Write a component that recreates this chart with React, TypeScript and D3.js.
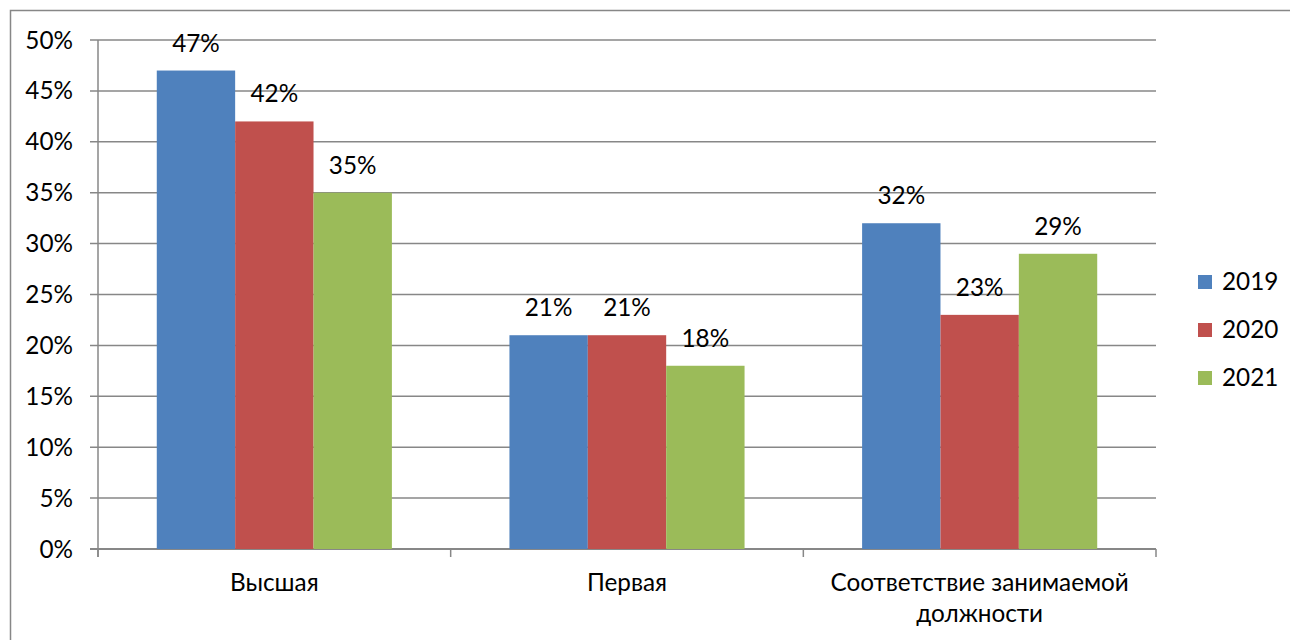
import React from "react";
import * as d3 from "d3";

const categories: string[][] = [["Высшая"], ["Первая"], ["Соответствие занимаемой", "должности"]];
const seriesNames = ["2019", "2020", "2021"];
const values2019 = [0.47, 0.21, 0.32];
const values2020 = [0.42, 0.21, 0.23];
const values2021 = [0.35, 0.18, 0.29];
const yTicks = [0, 0.05, 0.1, 0.15, 0.2, 0.25, 0.3, 0.35, 0.4, 0.45, 0.5];
const colors = ["#4F81BD", "#C0504D", "#9BBB59"];

const W = 1290;
const H = 640;
const left = 98;
const right = 1156;
const top = 40;
const bottom = 549;
const FONT = "Lato, 'Open Sans', sans-serif";
const FS = 24.3;

export default function App() {
  const series = [values2019, values2020, values2021];
  const catKeys = categories.map((c) => c.join(" "));
  const x0 = d3.scaleBand<string>().domain(catKeys).range([left, right]).paddingInner(0).paddingOuter(0);
  const x1 = d3
    .scaleBand<string>()
    .domain(seriesNames)
    .range([0, x0.bandwidth()])
    .paddingInner(0)
    .paddingOuter(0.75);
  const y = d3.scaleLinear().domain([0, 0.5]).range([bottom, top]);
  const fmt = d3.format(".0%");
  const grid = "#878787";

  const boundaries = [...catKeys.map((k) => x0(k)!), right];

  return (
    <svg
      width={W}
      height={H}
      style={{ position: "absolute", left: 0, top: 0, background: "#fff" }}
      fontFamily={FONT}
    >
      <rect x={10.5} y={10.5} width={W} height={H} fill="#fff" stroke={grid} strokeWidth={1.5} />
      {yTicks.map((t) => (
        <g key={t}>
          <line x1={left - 8} x2={right} y1={y(t)} y2={y(t)} stroke={grid} strokeWidth={t === 0 ? 2 : 1.5} />
          <text x={73} y={y(t) + 8.5} textAnchor="end" fontSize={FS} fill="#000">
            {fmt(t)}
          </text>
        </g>
      ))}
      <line x1={left} x2={left} y1={top} y2={bottom + 8} stroke={grid} strokeWidth={1.5} />
      {boundaries.map((b, i) => (
        <line key={i} x1={b} x2={b} y1={bottom} y2={bottom + 8} stroke={grid} strokeWidth={1.5} />
      ))}
      {catKeys.map((k, ci) => (
        <g key={k}>
          {seriesNames.map((s, si) => {
            const v = series[si][ci];
            const bx = x0(k)! + x1(s)!;
            return (
              <g key={s}>
                <rect x={bx} y={y(v)} width={x1.bandwidth()} height={bottom - y(v)} fill={colors[si]} />
                <text x={bx + x1.bandwidth() / 2} y={y(v) - 19} textAnchor="middle" fontSize={FS} fill="#000">
                  {fmt(v)}
                </text>
              </g>
            );
          })}
          {categories[ci].map((line, li) => (
            <text
              key={li}
              x={x0(k)! + x0.bandwidth() / 2}
              y={591 + li * 31}
              textAnchor="middle"
              fontSize={FS}
              fill="#000"
            >
              {line}
            </text>
          ))}
        </g>
      ))}
      {seriesNames.map((s, si) => (
        <g key={s}>
          <rect x={1198} y={275 + si * 48} width={14} height={14} fill={colors[si]} />
          <text x={1222} y={290 + si * 48} fontSize={FS} fill="#000">
            {s}
          </text>
        </g>
      ))}
    </svg>
  );
}
